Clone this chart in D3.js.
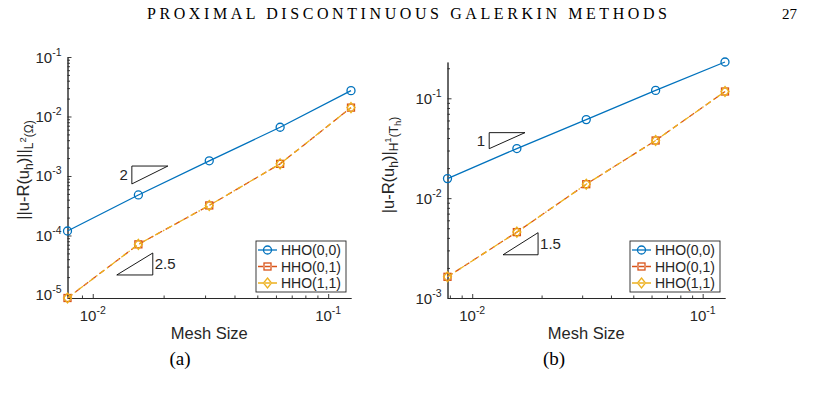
<!doctype html>
<html lang="en">
<head>
<meta charset="utf-8">
<title>HHO convergence</title>
<script src="https://cdn.jsdelivr.net/npm/d3@7"></script>
<style>
  body { margin: 0; background: #fff; }
  svg { display: block; }
</style>
</head>
<body>
<svg id="fig" width="815" height="400"></svg>
<script>
// mesh sizes h = 1/128 ... 1/8
const meshSize = [1/128, 1/64, 1/32, 1/16, 1/8];
const seriesNames = ["HHO(0,0)", "HHO(0,1)", "HHO(1,1)"];

// (a) L2 error
const l2_00 = [1.19e-4, 4.8e-4, 1.8e-3, 6.6e-3, 0.0272];
const l2_01 = [8.9e-6, 7.1e-5, 3.2e-4, 1.6e-3, 0.0141];
const l2_11 = [8.9e-6, 7.1e-5, 3.2e-4, 1.6e-3, 0.0141];

// (b) H1 error
const h1_00 = [0.0157, 0.0314, 0.0612, 0.120, 0.231];
const h1_01 = [1.63e-3, 4.57e-3, 0.0138, 0.0378, 0.117];
const h1_11 = [1.63e-3, 4.57e-3, 0.0138, 0.0378, 0.117];

// slope triangles: [x0, x1, yLow, yHigh], label
const triA = [
  { pts: [0.01466, 0.02085, 7.35e-4, 1.47e-3], label: "2", kind: "topLeft" },
  { pts: [0.01265, 0.01799, 2.17e-5, 5.08e-5], label: "2.5", kind: "botRight" }
];
const triB = [
  { pts: [0.01185, 0.01694, 0.0313, 0.0453], label: "1", kind: "topLeft" },
  { pts: [0.01361, 0.01931, 2.71e-3, 4.51e-3], label: "1.5", kind: "botRight" }
];

const colors = ["#0072BD", "#D95319", "#EDB120"];
const dashes = [null, "6,4", "6,3,1.5,3"];
const axisColor = "#262626";
const sans = "'Liberation Sans', Arial, Helvetica, sans-serif";
const serif = "'Liberation Serif', 'DejaVu Serif', serif";

const svg = d3.select("#fig");

// page header
svg.append("text")
  .attr("x", 407).attr("y", 19)
  .attr("text-anchor", "middle")
  .attr("font-family", serif).attr("font-size", 16)
  .attr("textLength", 520).attr("lengthAdjust", "spacing")
  .text("PROXIMAL DISCONTINUOUS GALERKIN METHODS");
svg.append("text")
  .attr("x", 797).attr("y", 19)
  .attr("text-anchor", "end")
  .attr("font-family", serif).attr("font-size", 15)
  .text("27");

function minorTicks(domain) {
  const out = [];
  const lo = Math.floor(Math.log10(domain[0])), hi = Math.ceil(Math.log10(domain[1]));
  for (let k = lo; k <= hi; k++)
    for (let m = 2; m <= 9; m++) {
      const v = m * Math.pow(10, k);
      if (v >= domain[0] && v <= domain[1]) out.push(v);
    }
  return out;
}

function majorTicks(domain) {
  const out = [];
  for (let k = Math.ceil(Math.log10(domain[0]) - 1e-9); k <= Math.floor(Math.log10(domain[1]) + 1e-9); k++)
    out.push(Math.pow(10, k));
  return out;
}

function powLabel(sel, v) {
  sel.append("tspan").text("10");
  sel.append("tspan").attr("font-size", 10.5).attr("dy", -7).text(Math.round(Math.log10(v)));
}

function panel(o) {
  const x = d3.scaleLog().domain(o.xDomain).range(o.xRange);
  const y = d3.scaleLog().domain(o.yDomain).range(o.yRange);
  const g = svg.append("g");
  const x0 = o.xRange[0], yb = o.yRange[0];

  // axes
  const yAxis = d3.axisLeft(y).tickValues(majorTicks(o.yDomain))
    .tickSize(-4).tickSizeOuter(0).tickFormat("");
  const yMinor = d3.axisLeft(y).tickValues(minorTicks(o.yDomain))
    .tickSize(-2.5).tickSizeOuter(0).tickFormat("");
  const xAxis = d3.axisBottom(x).tickValues(majorTicks(o.xDomain))
    .tickSize(-4).tickSizeOuter(0).tickFormat("");
  const xMinor = d3.axisBottom(x).tickValues(minorTicks(o.xDomain))
    .tickSize(-2.5).tickSizeOuter(0).tickFormat("");

  [[yAxis, `translate(${x0},0)`], [yMinor, `translate(${x0},0)`],
   [xAxis, `translate(0,${yb})`], [xMinor, `translate(0,${yb})`]].forEach(([ax, tr]) => {
    const a = g.append("g").attr("transform", tr).call(ax);
    a.selectAll("path,line").attr("stroke", axisColor).attr("stroke-width", 0.9);
  });

  // tick labels
  majorTicks(o.yDomain).forEach(v => {
    g.append("text").attr("x", x0 - 6).attr("y", y(v) + 5.5)
      .attr("text-anchor", "end").attr("font-family", sans).attr("font-size", 15)
      .attr("fill", axisColor).call(powLabel, v);
  });
  majorTicks(o.xDomain).forEach(v => {
    g.append("text").attr("x", x(v)).attr("y", yb + 23)
      .attr("text-anchor", "middle").attr("font-family", sans).attr("font-size", 15)
      .attr("fill", axisColor).call(powLabel, v);
  });

  // axis labels
  g.append("text")
    .attr("x", (o.xRange[0] + o.xRange[1]) / 2).attr("y", yb + 41)
    .attr("text-anchor", "middle").attr("font-family", sans).attr("font-size", 16.5)
    .attr("fill", axisColor).text("Mesh Size");
  const yl = g.append("text")
    .attr("transform", `translate(${o.yLabelPos[0]},${o.yLabelPos[1]}) rotate(-90)`)
    .attr("text-anchor", "middle").attr("font-family", sans).attr("font-size", 16.5)
    .attr("fill", axisColor);
  o.yLabel.forEach(p => {
    const t = yl.append("tspan").text(p[0]);
    if (p[1]) t.attr("font-size", p[1]);
    if (p[2]) t.attr("dy", p[2]);
  });

  // slope triangles
  o.tris.forEach(t => {
    const [a, b, lo, hi] = t.pts;
    let pts, lx, ly, anchor;
    if (t.kind === "topLeft") {
      pts = [[x(a), y(hi)], [x(b), y(hi)], [x(a), y(lo)]];
      lx = x(a) - 4; ly = (y(hi) + y(lo)) / 2 + 5; anchor = "end";
    } else {
      pts = [[x(a), y(lo)], [x(b), y(lo)], [x(b), y(hi)]];
      lx = x(b) + 2; ly = (y(hi) + y(lo)) / 2 + 5.5; anchor = "start";
    }
    g.append("path").attr("d", d3.line()(pts) + "Z")
      .attr("fill", "none").attr("stroke", "#000").attr("stroke-width", 0.9);
    g.append("text").attr("x", lx).attr("y", ly).attr("text-anchor", anchor)
      .attr("font-family", sans).attr("font-size", 15).attr("fill", axisColor)
      .text(t.label);
  });

  // series
  const line = d3.line().x(d => x(d[0])).y(d => y(d[1]));
  o.series.forEach((vals, i) => {
    const pts = meshSize.map((h, j) => [h, vals[j]]);
    g.append("path").attr("d", line(pts))
      .attr("fill", "none").attr("stroke", colors[i]).attr("stroke-width", 1.3)
      .attr("stroke-dasharray", dashes[i]);
    pts.forEach(p => drawMarker(g, i, x(p[0]), y(p[1])));
  });

  // legend
  const lw = 90, lh = 51;
  const lr = o.xRange[1] - 5, lbt = yb - 6;
  const leg = g.append("g").attr("transform", `translate(${lr - lw},${lbt - lh})`);
  leg.append("rect").attr("width", lw).attr("height", lh)
    .attr("fill", "#fff").attr("stroke", axisColor).attr("stroke-width", 0.9);
  seriesNames.forEach((name, i) => {
    const cy = 9 + i * 16.5;
    leg.append("line").attr("x1", 2).attr("x2", 21).attr("y1", cy).attr("y2", cy)
      .attr("stroke", colors[i]).attr("stroke-width", 1.3)
      .attr("stroke-dasharray", dashes[i] ? "5,2" : null);
    drawMarker(leg, i, 11.5, cy);
    leg.append("text").attr("x", 25).attr("y", cy + 5)
      .attr("font-family", sans).attr("font-size", 14).attr("fill", axisColor)
      .text(name);
  });
}

function drawMarker(g, i, cx, cy) {
  if (i === 0) {
    g.append("circle").attr("cx", cx).attr("cy", cy).attr("r", 4)
      .attr("fill", "none").attr("stroke", colors[0]).attr("stroke-width", 1.3);
  } else if (i === 1) {
    g.append("rect").attr("x", cx - 3.5).attr("y", cy - 3.5).attr("width", 7).attr("height", 7)
      .attr("fill", "none").attr("stroke", colors[1]).attr("stroke-width", 1.3);
  } else {
    g.append("path").attr("d", `M${cx},${cy - 5}L${cx + 4},${cy}L${cx},${cy + 5}L${cx - 4},${cy}Z`)
      .attr("fill", "none").attr("stroke", colors[2]).attr("stroke-width", 1.3);
  }
}

panel({
  xDomain: [1/128, 1/8], xRange: [67.5, 351],
  yDomain: [8.9e-6, 0.1], yRange: [298, 57],
  series: [l2_00, l2_01, l2_11],
  tris: triA,
  yLabelPos: [29, 170],
  yLabel: [["||u-R(u"], ["h", 12, 4], [")||", 16.5, -4], ["L", 12, 4], ["2", 9.5, -7], ["(Ω)", 12, 7]]
});

panel({
  xDomain: [1/128, 1/8], xRange: [447.5, 725],
  yDomain: [1e-3, 0.231], yRange: [298, 62],
  series: [h1_00, h1_01, h1_11],
  tris: triB,
  yLabelPos: [394, 165],
  yLabel: [["|u-R(u"], ["h", 12, 4], [")|", 16.5, -4], ["H", 12, 4], ["1", 9.5, -7], ["(T", 12, 7], ["h", 9.5, 3], [")", 12, -3]]
});

// sub-figure captions
[["(a)", 180], ["(b)", 554]].forEach(([t, cx]) => {
  svg.append("text").attr("x", cx).attr("y", 365)
    .attr("text-anchor", "middle").attr("font-family", serif).attr("font-size", 19)
    .text(t);
});
</script>
</body>
</html>
